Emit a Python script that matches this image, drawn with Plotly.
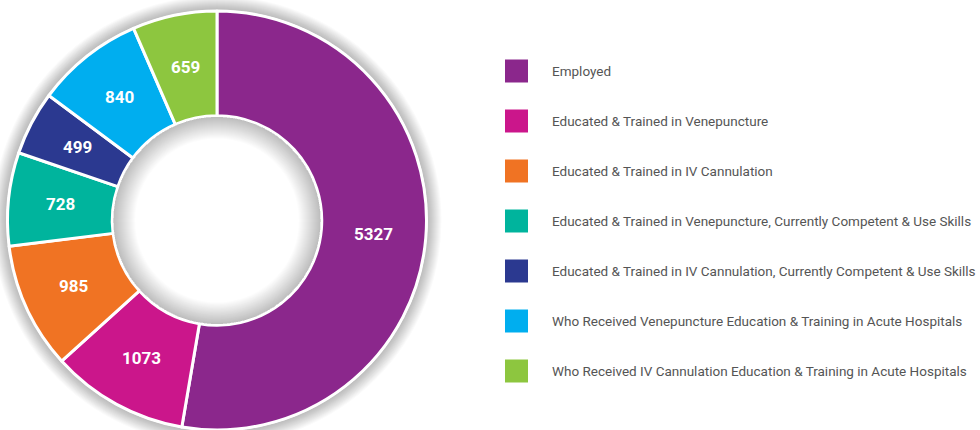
import math
import plotly.graph_objects as go

categories = [
    "Employed",
    "Educated & Trained in Venepuncture",
    "Educated & Trained in IV Cannulation",
    "Educated & Trained in Venepuncture, Currently Competent & Use Skills",
    "Educated & Trained in IV Cannulation, Currently Competent & Use Skills",
    "Who Received Venepuncture Education & Training in Acute Hospitals",
    "Who Received IV Cannulation Education & Training in Acute Hospitals",
]
values = [5327, 1073, 985, 728, 499, 840, 659]
colors = ["#8B278C", "#CB168B", "#F07323", "#00B49D", "#2B3990", "#00AEEF", "#8DC63F"]

W, H = 980, 430
FONT = "Roboto, Liberation Sans, sans-serif"
HOLE = 0.5

# donut geometry in pixels (from top-left)
cx, cy, R = 217.0, 220.5, 209.5


def px(x):
    return x / W


def py(y):
    return 1 - y / H


fig = go.Figure()
fig.add_trace(go.Pie(
    labels=categories,
    values=values,
    marker=dict(colors=colors, line=dict(color="white", width=3)),
    hole=HOLE,
    sort=False,
    direction="clockwise",
    rotation=0,
    textinfo="none",
    domain=dict(x=[px(cx - R), px(cx + R)], y=[py(cy + R), py(cy - R)]),
    showlegend=False,
    hoverinfo="label+value",
))

# soft outer shadow (stroked circles below the donut)
for k in range(1, 15):
    r = R + 1 + k / 2
    fig.add_shape(type="circle", xref="paper", yref="paper", layer="below",
                  x0=px(cx - r), x1=px(cx + r), y0=py(cy + r), y1=py(cy - r),
                  line=dict(color="rgba(0,0,0,0.018)", width=k), fillcolor="rgba(0,0,0,0)")

# soft inner shadow inside the hole
Ri = R * HOLE - 1
for k in range(1, 23):
    r = Ri - k / 2
    fig.add_shape(type="circle", xref="paper", yref="paper", layer="above",
                  x0=px(cx - r), x1=px(cx + r), y0=py(cy + r), y1=py(cy - r),
                  line=dict(color="rgba(0,0,0,0.011)", width=k), fillcolor="rgba(0,0,0,0)")

# value labels at the middle of each slice
total = sum(values)
rmid = R * (1 + HOLE) / 2
cum = 0.0
for v in values:
    ang = 2 * math.pi * (cum + v / 2) / total
    cum += v
    x = cx + rmid * math.sin(ang)
    y = cy - rmid * math.cos(ang)
    fig.add_annotation(xref="paper", yref="paper", x=px(x), y=py(y),
                       xanchor="center", yanchor="middle", showarrow=False,
                       text=f"<b>{v}</b>",
                       font=dict(family=FONT, size=17, color="white"))

# manual legend
sq = 23
x0 = 505
y_first = 71
gap = 50
for i, (cat, col) in enumerate(zip(categories, colors)):
    yc = y_first + i * gap
    fig.add_shape(type="rect", xref="paper", yref="paper",
                  x0=px(x0), x1=px(x0 + sq),
                  y0=py(yc + sq / 2), y1=py(yc - sq / 2),
                  fillcolor=col, line=dict(width=0))
    fig.add_annotation(xref="paper", yref="paper", x=px(550), y=py(yc),
                       xanchor="left", yanchor="middle", showarrow=False,
                       text=cat, font=dict(family=FONT, size=13.5, color="#555555"))

fig.update_layout(
    width=W, height=H,
    margin=dict(l=0, r=0, t=0, b=0),
    paper_bgcolor="white", plot_bgcolor="white",
)
fig.write_html("out.html", config={"displayModeBar": False},
               post_script="document.body.style.margin='0';")
